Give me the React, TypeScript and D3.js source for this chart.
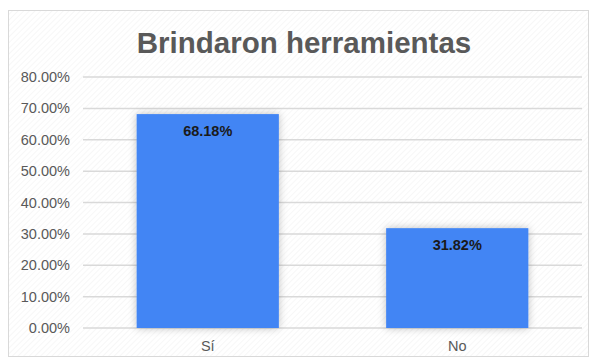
import React from "react";
import * as d3 from "d3";

const categories = ["Sí", "No"];
const values = [68.18, 31.82];
const yTicks = [0, 10, 20, 30, 40, 50, 60, 70, 80];
const title = "Brindaron herramientas";

export default function App() {
  const W = 590, H = 358;
  const left = 83, right = 582, top = 77, bottom = 328;
  const x = d3.scaleBand<string>().domain(categories).range([left, right]).paddingInner(0.43).paddingOuter(0.215);
  const y = d3.scaleLinear().domain([0, 80]).range([bottom, top]);
  const font = "Arial, 'Liberation Sans', sans-serif";
  return (
    <svg width={W} height={H} style={{ position: "absolute", left: 0, top: 0 }}>
      <defs>
        <pattern id="hatch" width="4" height="4" patternUnits="userSpaceOnUse" patternTransform="rotate(45)">
          <rect width="4" height="4" fill="#ffffff" />
          <line x1="0" y1="0" x2="0" y2="4" stroke="#f0f0f0" strokeWidth="1" />
        </pattern>
        <filter id="shadow" x="-20%" y="-20%" width="140%" height="140%">
          <feGaussianBlur in="SourceAlpha" stdDeviation="4" />
          <feOffset dx="0" dy="0" result="b" />
          <feComponentTransfer><feFuncA type="linear" slope="0.25" /></feComponentTransfer>
          <feMerge><feMergeNode /><feMergeNode in="SourceGraphic" /></feMerge>
        </filter>
      </defs>
      <rect x={0} y={0} width={W} height={H} fill="#ffffff" />
      <rect x={8.5} y={10.5} width={580} height={346} fill="url(#hatch)" stroke="#d9d9d9" />
      <text x={304} y={53} textAnchor="middle" fontFamily={font} fontWeight="bold" fontSize={29.5} fill="#595959">{title}</text>
      {yTicks.map(t => (
        <g key={t}>
          <line x1={left} x2={right} y1={y(t)} y2={y(t)} stroke="#d9d9d9" strokeWidth={1.5} />
          <text x={70} y={y(t) + 5} textAnchor="end" fontFamily={font} fontSize={14.5} fill="#595959">{t.toFixed(2)}%</text>
        </g>
      ))}
      {categories.map((c, i) => (
        <g key={c}>
          <rect x={x(c)!} y={y(values[i])} width={x.bandwidth()} height={bottom - y(values[i])} fill="#4285f4" filter="url(#shadow)" />
          <text x={x(c)! + x.bandwidth() / 2} y={y(values[i]) + 22} textAnchor="middle" fontFamily={font} fontWeight="bold" fontSize={14.5} fill="#1a1a1a">{values[i].toFixed(2)}%</text>
          <text x={x(c)! + x.bandwidth() / 2} y={351} textAnchor="middle" fontFamily={font} fontSize={14.5} fill="#595959">{c}</text>
        </g>
      ))}
    </svg>
  );
}
